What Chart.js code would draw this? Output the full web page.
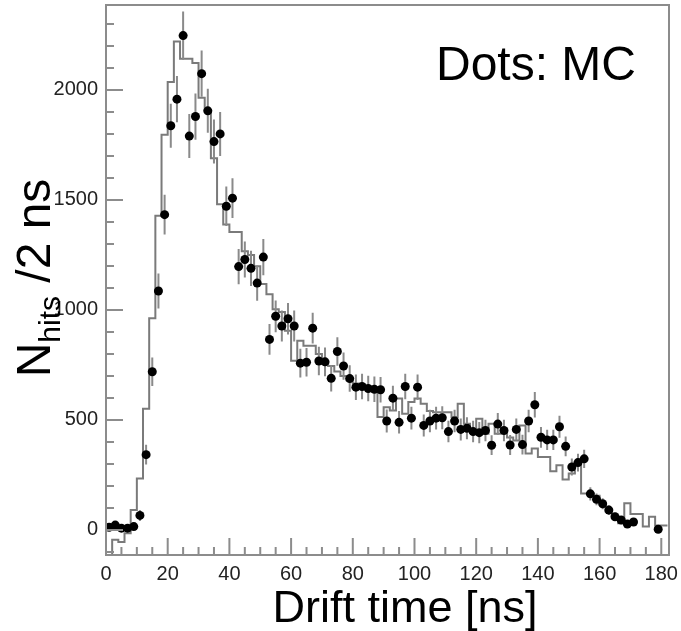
<!DOCTYPE html>
<html lang="en">
<head>
    <meta charset="UTF-8">
    <script src="https://cdn.jsdelivr.net/npm/chart.js"></script>
    <title>Drift time</title>
    <style>
        body { margin: 0; background: #fff; }
        .box { width: 681px; height: 631px; }
    </style>
</head>
<body>
    <div class="box"><canvas id="grafico"></canvas></div>

<script>
    // histogram (2 ns bins), left edge of each bin
    var binStart = [0, 2, 4, 6, 8, 10, 12, 14, 16, 18, 20, 22, 24, 26, 28, 30, 32, 34, 36, 38,
        40, 42, 44, 46, 48, 50, 52, 54, 56, 58, 60, 62, 64, 66, 68, 70, 72, 74, 76, 78,
        80, 82, 84, 86, 88, 90, 92, 94, 96, 98, 100, 102, 104, 106, 108, 110, 112, 114, 116, 118,
        120, 122, 124, 126, 128, 130, 132, 134, 136, 138, 140, 142, 144, 146, 148, 150, 152, 154, 156, 158,
        160, 162, 164, 166, 168, 170, 172, 174, 176, 178, 180, 182]
    var histo = [-75, -130, -45, -55, -15, 90, 234, 551, 962, 1428, 1796, 2036, 2220, 2142, 2142, 2122, 1964, 1904, 1689, 1480,
        1388, 1354, 1354, 1267, 1250, 1199, 1118, 1071, 1003, 990, 905, 769, 860, 837, 837, 800, 760, 745, 720, 700,
        680, 665, 655, 650, 640, 513, 558, 543, 597, 528, 581, 597, 573, 540, 535, 535, 535, 513, 573, 483,
        440, 505, 437, 483, 437, 459, 420, 407, 475, 347, 370, 332, 332, 267, 294, 229, 256, 294, 166, 166,
        155, 121, 83, 55, 30, 121, 72, 72, 15, 60, 20, 20]

    // MC dots
    var dotTime = [1, 3, 5, 7, 9, 11, 13, 15, 17, 19, 21, 23, 25, 27, 29, 31, 33, 35, 37, 39,
        41, 43, 45, 47, 49, 51, 53, 55, 57, 59, 61, 63, 65, 67, 69, 71, 73, 75, 77, 79,
        81, 83, 85, 87, 89, 91, 93, 95, 97, 99, 101, 103, 105, 107, 109, 111, 113, 115, 117, 119,
        121, 123, 125, 127, 129, 131, 133, 135, 137, 139, 141, 143, 145, 147, 149, 151, 153, 155, 157, 159,
        161, 163, 165, 167, 169, 171, 179]
    var dotValue = [12, 22, 8, 8, 15, 66, 342, 719, 1086, 1433, 1837, 1958, 2247, 1790, 1879, 2074, 1905, 1765, 1800, 1471,
        1508, 1197, 1229, 1189, 1122, 1240, 866, 971, 927, 960, 927, 758, 762, 917, 768, 764, 689, 811, 745, 688,
        649, 652, 643, 639, 637, 495, 599, 489, 652, 508, 649, 475, 495, 508, 510, 447, 495, 457, 462, 447,
        442, 452, 385, 481, 452, 386, 457, 388, 495, 569, 421, 409, 409, 469, 380, 286, 306, 323, 164, 139,
        119, 90, 60, 45, 27, 36, 3]
    var dotError = [15, 15, 12, 12, 15, 25, 45, 65, 80, 90, 100, 105, 110, 100, 105, 105, 100, 100, 100, 90,
        90, 80, 82, 80, 80, 82, 70, 72, 70, 72, 70, 65, 65, 70, 65, 65, 60, 65, 62, 60,
        58, 58, 58, 58, 58, 52, 56, 51, 58, 52, 58, 50, 51, 52, 52, 49, 51, 50, 50, 49,
        48, 49, 45, 50, 49, 45, 49, 45, 51, 58, 47, 46, 46, 50, 45, 39, 40, 41, 30, 27,
        25, 22, 18, 15, 12, 14, 5]

    var xTicks = [0, 20, 40, 60, 80, 100, 120, 140, 160, 180]
    var yTicks = [0, 500, 1000, 1500, 2000]

    var fonte = "'Liberation Sans', Arial, Helvetica, sans-serif"

    var histoPontos = binStart.map((x, i) => ({ x: x, y: histo[i] }))
    var dotPontos = dotTime.map((x, i) => ({ x: x, y: dotValue[i] }))
    var barraPontos = []
    dotTime.forEach((x, i) => {
        barraPontos.push({ x: x, y: dotValue[i] - dotError[i] })
        barraPontos.push({ x: x, y: dotValue[i] + dotError[i] })
        barraPontos.push({ x: x, y: null })
    })

    // frame, inside ticks and texts, ROOT style
    var molduraRoot = {
        id: 'molduraRoot',
        afterDraw(chart) {
            var ctx = chart.ctx
            var a = chart.chartArea
            var sx = chart.scales.x
            var sy = chart.scales.y
            ctx.save()
            ctx.strokeStyle = '#8c8c8c'
            ctx.lineWidth = 2
            ctx.strokeRect(a.left, a.top, a.right - a.left, a.bottom - a.top)
            ctx.beginPath()
            for (var v = 0; v <= 180; v += 5) {
                var px = sx.getPixelForValue(v)
                var len = v % 20 == 0 ? 17 : 8
                ctx.moveTo(px, a.bottom)
                ctx.lineTo(px, a.bottom - len)
            }
            for (var w = -100; w <= 2300; w += 100) {
                var py = sy.getPixelForValue(w)
                var len2 = w % 500 == 0 ? 17 : 8
                ctx.moveTo(a.left, py)
                ctx.lineTo(a.left + len2, py)
            }
            ctx.stroke()

            ctx.fillStyle = '#000'
            ctx.textBaseline = 'alphabetic'
            ctx.textAlign = 'center'
            ctx.font = '45px ' + fonte
            ctx.fillText('Drift time [ns]', 405, 622)
            ctx.font = '48px ' + fonte
            ctx.fillText('Dots: MC', 536, 80)

            // y title with subscript
            ctx.translate(50, 278)
            ctx.rotate(-Math.PI / 2)
            ctx.textAlign = 'left'
            ctx.font = '48px ' + fonte
            var wN = ctx.measureText('N').width
            ctx.font = '30px ' + fonte
            var wSub = ctx.measureText('hits').width
            ctx.font = '48px ' + fonte
            var wRest = ctx.measureText(' /2 ns').width
            var x0 = -(wN + wSub + wRest) / 2
            ctx.fillText('N', x0, 0)
            ctx.font = '30px ' + fonte
            ctx.fillText('hits', x0 + wN, 10)
            ctx.font = '48px ' + fonte
            ctx.fillText(' /2 ns', x0 + wN + wSub, 0)
            ctx.restore()
        }
    }

    var semMargem = (s) => {
        s.paddingTop = 0
        s.paddingBottom = 0
        s.paddingLeft = 0
        s.paddingRight = 0
    }

    var grafico = new Chart(document.getElementById('grafico'), {
        type: 'scatter',
        data: {
            datasets: [{
                label: 'MC',
                data: dotPontos,
                order: 0,
                backgroundColor: '#000',
                borderColor: '#000',
                pointRadius: 4.5,
                borderWidth: 0
            },
            {
                type: 'line',
                label: 'Erro',
                data: barraPontos,
                order: 1,
                spanGaps: false,
                borderColor: '#8a8a8a',
                borderWidth: 2,
                pointRadius: 0,
                fill: false
            },
            {
                type: 'line',
                label: 'Dados',
                data: histoPontos,
                order: 2,
                stepped: 'after',
                borderColor: '#7a7a7a',
                borderWidth: 2,
                pointRadius: 0,
                fill: false
            }]
        },
        options: {
            responsive: true,
            maintainAspectRatio: false,
            animation: false,
            layout: { padding: { left: 0, top: 5, right: 12, bottom: 0 } },
            plugins: {
                legend: { display: false },
                tooltip: { enabled: false }
            },
            scales: {
                x: {
                    type: 'linear',
                    min: 0,
                    max: 182.5,
                    grid: { display: false, drawTicks: false },
                    border: { display: false },
                    afterBuildTicks: (s) => { s.ticks = xTicks.map(v => ({ value: v })) },
                    afterFit: (s) => { s.height = 76; semMargem(s) },
                    ticks: {
                        padding: 7,
                        maxRotation: 0,
                        autoSkip: false,
                        color: '#222',
                        font: { family: fonte, size: 20 },
                        callback: (v) => String(v)
                    }
                },
                y: {
                    min: -114,
                    max: 2386,
                    grid: { display: false, drawTicks: false },
                    border: { display: false },
                    afterBuildTicks: (s) => { s.ticks = yTicks.map(v => ({ value: v })) },
                    afterFit: (s) => { s.width = 106; semMargem(s) },
                    ticks: {
                        padding: 8,
                        autoSkip: false,
                        color: '#222',
                        font: { family: fonte, size: 20 },
                        callback: (v) => String(v)
                    }
                }
            }
        },
        plugins: [molduraRoot]
    });
</script>
</body>
</html>
